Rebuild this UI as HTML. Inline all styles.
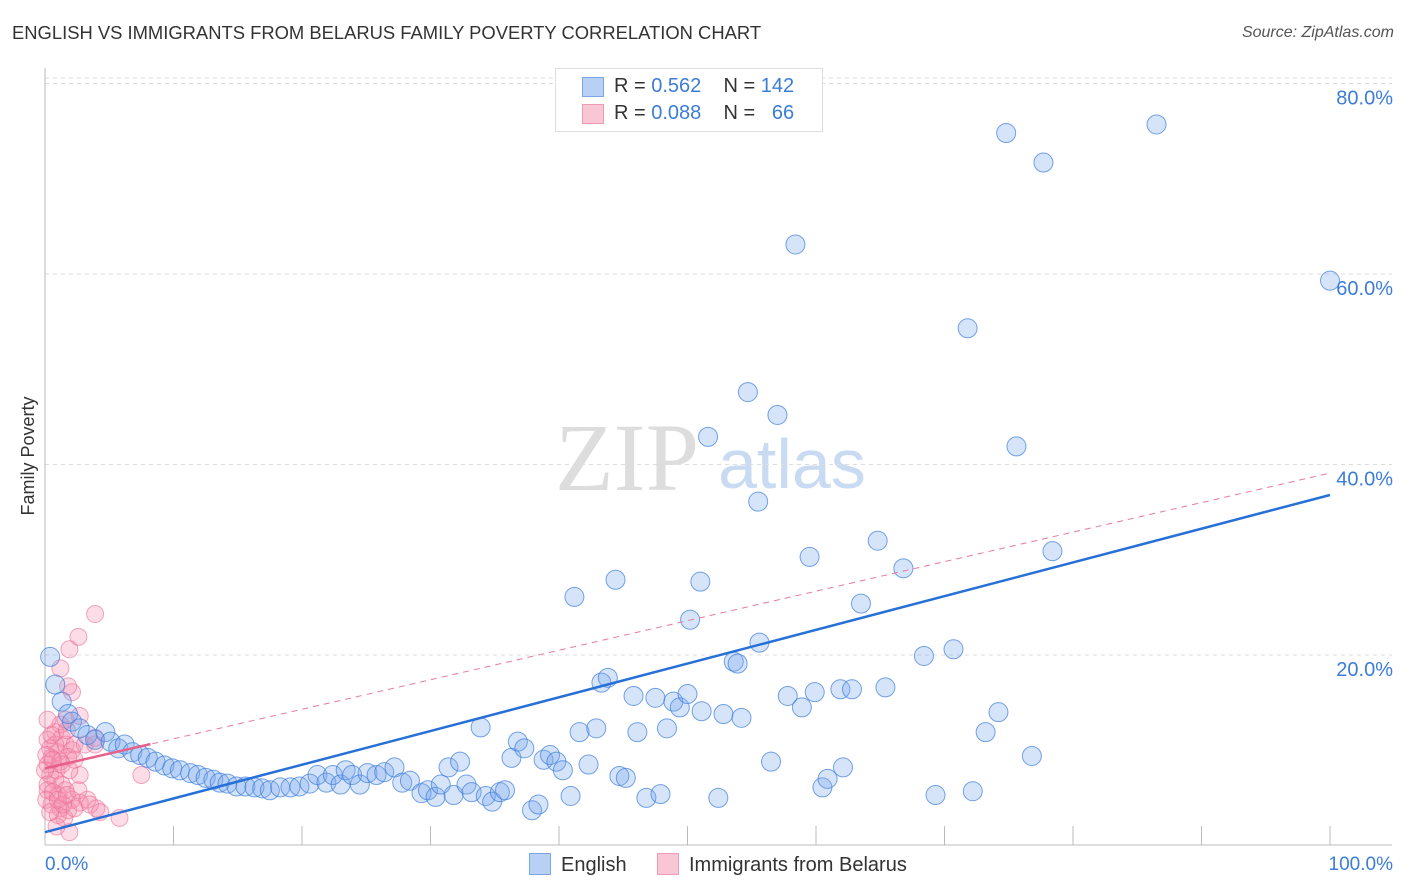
<!DOCTYPE html>
<html><head><meta charset="utf-8"><style>
body{margin:0;background:#fff;font-family:"Liberation Sans",sans-serif;}
#wrap{position:relative;width:1406px;height:892px;overflow:hidden;}
.t{position:absolute;white-space:nowrap;}
</style></head><body><div id="wrap">
<div class="t" style="left:12px;top:22px;font-size:18.4px;color:#333;">ENGLISH VS IMMIGRANTS FROM BELARUS FAMILY POVERTY CORRELATION CHART</div>
<div class="t" style="right:12px;top:24px;font-size:16px;color:#555;font-style:italic;">Source: ZipAtlas.com</div>
<svg id="svg" width="1406" height="892" style="position:absolute;left:0;top:0"></svg>
</div>
<script>
const blueX=[0.4,0.8,1.3,1.8,2.1,2.7,3.3,3.9,4.7,5.1,5.7,6.2,6.8,7.4,8.0,8.6,9.3,9.9,10.5,11.3,11.9,12.5,13.1,13.6,14.2,14.9,15.6,16.3,16.9,17.5,18.3,19.1,19.8,20.6,21.2,21.9,22.4,23.0,23.4,23.9,24.5,25.1,25.8,26.4,27.2,27.8,28.4,29.3,29.8,30.4,30.8,31.4,31.8,32.3,32.8,33.2,33.9,34.3,34.8,35.4,35.8,36.3,36.8,37.3,37.9,38.4,38.8,39.3,39.8,40.3,40.9,41.2,41.6,42.3,42.9,43.3,43.8,44.4,44.7,45.2,45.8,46.1,46.8,47.5,47.9,48.4,48.9,49.4,50.0,50.2,51.0,51.1,51.6,52.4,52.8,53.6,53.9,54.2,54.7,55.5,55.6,56.5,57.0,57.8,58.4,58.9,59.5,59.9,60.5,60.9,61.9,62.1,62.8,63.5,64.8,65.4,66.8,68.4,69.3,70.7,71.8,72.2,73.2,74.2,74.8,75.6,76.8,77.7,78.4,86.5,100.0];
const blueY=[19.8,16.9,15.1,13.8,13.0,12.3,11.6,11.1,11.9,10.9,10.2,10.6,9.8,9.5,9.2,8.8,8.4,8.1,7.9,7.6,7.4,7.1,6.9,6.6,6.5,6.2,6.2,6.1,6.0,5.8,6.1,6.1,6.2,6.5,7.4,6.6,7.4,6.4,7.9,7.4,6.4,7.6,7.4,7.7,8.2,6.6,6.8,5.5,5.8,5.1,6.4,8.2,5.3,8.8,6.4,5.6,12.4,5.2,4.6,5.6,5.8,9.2,10.9,10.2,3.7,4.3,9.0,9.5,8.8,7.9,5.2,26.1,11.9,8.5,12.3,17.1,17.6,27.9,7.3,7.1,15.7,11.9,5.0,15.5,5.4,12.3,15.1,14.5,15.9,23.7,27.7,14.1,42.9,5.0,13.8,19.3,19.1,13.4,47.6,36.1,21.3,8.8,45.2,15.7,63.1,14.5,30.3,16.1,6.1,7.0,16.4,8.2,16.4,25.4,32.0,16.6,29.1,19.9,5.3,20.6,54.3,5.7,11.9,14.0,74.8,41.9,9.4,71.7,30.9,75.7,59.3];
const pinkX=[3.9,2.6,1.9,1.2,2.1,1.8,2.7,0.8,1.3,0.2,0.4,1.0,1.6,2.1,0.5,0.2,0.9,1.2,1.8,2.3,0.4,0.8,1.3,0.2,1.0,1.6,2.1,0.5,1.2,1.8,2.7,3.3,4.0,1.0,1.5,1.9,5.8,7.5,2.7,0.0,0.2,0.6,0.1,0.4,0.9,1.4,2.3,3.5,4.3,0.8,1.2,0.5,1.7,2.3,3.1,3.9,0.1,0.2,1.6,3.9,1.0,1.7,2.6,1.3,1.9,0.6];
const pinkY=[24.3,21.9,20.6,18.6,16.1,16.7,13.6,11.9,11.3,11.1,10.2,9.8,10.6,10.0,9.2,8.5,7.9,8.8,9.3,9.0,7.4,6.9,6.4,5.8,5.3,5.8,4.8,4.3,3.9,3.7,4.5,4.8,3.9,3.2,2.9,1.4,2.9,7.4,7.4,7.9,6.4,5.6,4.8,3.5,2.0,4.3,3.9,4.3,3.5,10.6,12.7,11.6,12.1,10.6,10.6,10.6,9.5,13.2,13.2,11.3,4.8,5.3,5.8,8.5,7.9,9.0];
const blueTrend=[1.4,0.354];
const pinkTrend=[8.1,0.31];
const yTicks=[20,40,60,80];
const yTickLabels=["20.0%","40.0%","60.0%","80.0%"];

const NS="http://www.w3.org/2000/svg",svg=document.getElementById("svg");
const X0=45,X1=1330,Y0=845.5,YS=9.525;
const xs=v=>X0+v*(X1-X0)/100, ys=v=>Y0-v*YS;
function mk(t,a,p){const e=document.createElementNS(NS,t);for(const k in a)e.setAttribute(k,a[k]);(p||svg).appendChild(e);return e;}
let w=mk("text",{x:555,y:490,"font-size":96,fill:"#ddd","font-family":"Liberation Serif,serif"});w.textContent="ZIP";


w=mk("text",{x:718,y:488,"font-size":70,fill:"#c9dbf3","font-family":"Liberation Sans,sans-serif"});w.textContent="atlas";


mk("line",{x1:X0,x2:1392,y1:78,y2:78,stroke:"#ddd","stroke-dasharray":"4,4"});
yTicks.forEach((v,i)=>{const g=mk("line",{x1:X0,x2:1392,y1:ys(v),y2:ys(v),stroke:"#ddd","stroke-dasharray":"4,4"});


const t=mk("text",{x:1393,y:ys(v)+21,"text-anchor":"end","font-size":20,fill:"#3b7dd8"});t.textContent=yTickLabels[i];

});
mk("line",{x1:X0,x2:X0,y1:68,y2:845,stroke:"#bbb"});
mk("line",{x1:X0,x2:1392,y1:845,y2:845,stroke:"#bbb"});
for(let i=1;i<=10;i++){const tk=mk("line",{x1:X0+i*128.5,x2:X0+i*128.5,y1:826,y2:845,stroke:"#bbb"});

}
let t=mk("text",{x:45,y:870,"font-size":19,fill:"#3b7dd8"});t.textContent="0.0%";


t=mk("text",{x:1393,y:870,"text-anchor":"end","font-size":19,fill:"#3b7dd8"});t.textContent="100.0%";


t=mk("text",{x:34,y:456,"font-size":18,fill:"#333","text-anchor":"middle",transform:"rotate(-90 34 456)"});t.textContent="Family Poverty";


pinkX.forEach((x,i)=>{const c=mk("circle",{cx:xs(x),cy:ys(pinkY[i]),r:8.5,fill:"rgba(244,143,177,0.3)",stroke:"rgba(236,110,150,0.6)","stroke-width":1});

});
blueX.forEach((x,i)=>{const c=mk("circle",{cx:xs(x),cy:ys(blueY[i]),r:9.5,fill:"rgba(120,165,235,0.3)",stroke:"rgba(60,125,220,0.7)","stroke-width":1});

});
let l=mk("line",{x1:xs(0),y1:ys(pinkTrend[0]),x2:xs(100),y2:ys(pinkTrend[0]+pinkTrend[1]*100),stroke:"#e87a9c","stroke-width":1,"stroke-dasharray":"6,5"});


l=mk("line",{x1:xs(0),y1:ys(pinkTrend[0]),x2:xs(8.2),y2:ys(pinkTrend[0]+pinkTrend[1]*8.2),stroke:"#e8608a","stroke-width":2.5});


l=mk("line",{x1:xs(0),y1:ys(blueTrend[0]),x2:xs(100),y2:ys(blueTrend[0]+blueTrend[1]*100),stroke:"#2670d8","stroke-width":2.5});


</script>
<div class="t" style="left:555px;top:68px;width:266px;height:62px;border:1px solid #ddd;background:#fff;font-size:20px;">
<div style="position:absolute;left:26px;top:8px;width:20px;height:18px;background:#b8d0f4;border:1px solid #7aa6e6;"></div>
<div style="position:absolute;left:58px;top:6px;color:#333">R = <span style="color:#3b7dd8">0.562</span>&nbsp;&nbsp;&nbsp; N = <span style="color:#3b7dd8">142</span></div>
<div style="position:absolute;left:26px;top:35px;width:20px;height:18px;background:#f9c6d6;border:1px solid #ef9ab5;"></div>
<div style="position:absolute;left:58px;top:33px;color:#333">R = <span style="color:#3b7dd8">0.088</span>&nbsp;&nbsp;&nbsp; N = &nbsp;&nbsp;<span style="color:#3b7dd8">66</span></div>
</div>
<div class="t" style="left:529px;top:853px;font-size:20px;color:#333"><span style="display:inline-block;width:20px;height:20px;background:#b8d0f4;border:1px solid #7aa6e6;vertical-align:-4px;margin-right:10px"></span>English</div>
<div class="t" style="left:657px;top:853px;font-size:20px;color:#333"><span style="display:inline-block;width:20px;height:20px;background:#f9c6d6;border:1px solid #ef9ab5;vertical-align:-4px;margin-right:10px"></span>Immigrants from Belarus</div>
</body></html>
